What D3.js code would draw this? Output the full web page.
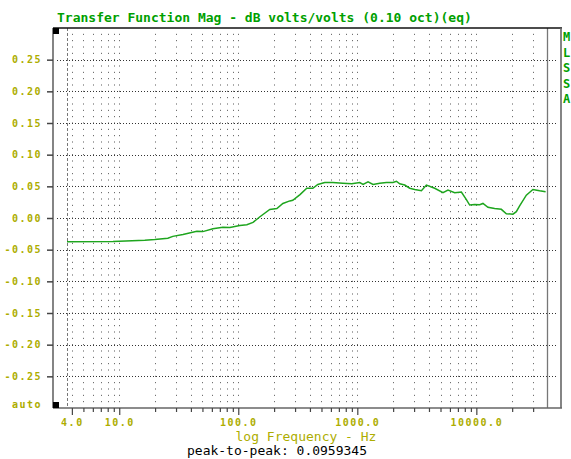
<!DOCTYPE html>
<html><head><meta charset="utf-8">
<script src="https://cdn.jsdelivr.net/npm/d3@7"></script>
<style>
html,body{margin:0;padding:0;background:#fff;}
svg{display:block;}
</style></head>
<body>
<svg id="chart" width="571" height="459"></svg>
<script>
// ---- data ----
const freqs = [3.64, 8.85, 16.4, 19.9, 25.6, 28.2, 34.3, 44.9, 50.4, 61.2, 74.2, 85, 103, 118, 133, 152, 184, 211, 237, 271, 287, 330, 376, 423, 466, 533, 622, 755, 898, 1049, 1118, 1231, 1356, 1544, 1756, 1995, 2131, 2272, 2502, 2756, 3037, 3456, 3806, 4193, 4470, 5248, 5779, 6577, 7487, 8248, 8790, 9683, 10666, 11365, 12516, 14247, 16218, 17865, 20297, 21677, 23103, 26300, 29880, 34010, 38190];
const magDb = [-0.0375, -0.037, -0.035, -0.034, -0.032, -0.029, -0.026, -0.021, -0.0215, -0.017, -0.0148, -0.015, -0.012, -0.0105, -0.007, 0.002, 0.0135, 0.015, 0.023, 0.027, 0.028, 0.037, 0.047, 0.047, 0.053, 0.056, 0.056, 0.055, 0.054, 0.056, 0.053, 0.057, 0.053, 0.055, 0.056, 0.056, 0.058, 0.054, 0.052, 0.047, 0.045, 0.043, 0.052, 0.049, 0.047, 0.040, 0.044, 0.040, 0.041, 0.029, 0.0205, 0.0215, 0.021, 0.023, 0.017, 0.015, 0.0137, 0.0068, 0.006, 0.010, 0.019, 0.036, 0.045, 0.043, 0.0415];
const yTicks = [0.25, 0.20, 0.15, 0.10, 0.05, 0.00, -0.05, -0.10, -0.15, -0.20, -0.25];
const yTickLabels = ["0.25", "0.20", "0.15", "0.10", "0.05", "0.00", "-0.05", "-0.10", "-0.15", "-0.20", "-0.25"];
const xMajorTicks = [4, 10, 100, 1000, 10000];
const xMajorLabels = ["4.0", "10.0", "100.0", "1000.0", "10000.0"];
const xMinorTicks = [5, 6, 7, 8, 9, 20, 30, 40, 50, 60, 70, 80, 90, 200, 300, 400, 500, 600, 700, 800, 900, 2000, 3000, 4000, 5000, 6000, 7000, 8000, 9000, 20000, 30000];
const sideLetters = ["M", "L", "S", "S", "A"];
const titleText = "Transfer Function Mag - dB volts/volts (0.10 oct)(eq)";
const xTitle = "log Frequency - Hz";
const footer = "peak-to-peak: 0.0959345";

// ---- layout ----
const svg = d3.select("#chart");
const frame = {left: 53, top: 28, right: 561, bottom: 408, inner: 547};
const x = d3.scaleLog().domain([3.64, 40000]).range([67, 548]);
const y = d3.scaleLinear().domain([-0.30, 0.30]).range([408, 28]);

const OLIVE = "#adad00", GREEN = "#00a000", LINE = "#1ea51e";
const monoB = "'DejaVu Sans Mono', monospace";

// vertical dotted grid
const gridFreqs = xMajorTicks.concat(xMinorTicks);
const step = y(0) - y(0.01);
svg.append("g").selectAll("line").data(gridFreqs).join("line")
  .attr("x1", d => Math.round(x(d)) + 0.5).attr("x2", d => Math.round(x(d)) + 0.5)
  .attr("y1", y(0.29) - 0.5).attr("y2", y(-0.295))
  .attr("stroke", "#555").attr("stroke-width", 1)
  .attr("stroke-dasharray", `1,${step - 1}`);

// horizontal dotted grid
svg.append("g").selectAll("line").data(yTicks).join("line")
  .attr("x1", 57).attr("x2", 556)
  .attr("y1", d => Math.round(y(d)) + 0.5).attr("y2", d => Math.round(y(d)) + 0.5)
  .attr("stroke", "#333").attr("stroke-width", 1)
  .attr("stroke-dasharray", "1,2");

// left dashed line
svg.append("line").attr("x1", x(3.64) + 0.5).attr("x2", x(3.64) + 0.5)
  .attr("y1", frame.top).attr("y2", frame.bottom)
  .attr("stroke", "#777").attr("stroke-dasharray", "3,2");

// inner right line
svg.append("line").attr("x1", frame.inner + 0.5).attr("x2", frame.inner + 0.5)
  .attr("y1", frame.top).attr("y2", frame.bottom)
  .attr("stroke", "#777").attr("stroke-width", 1.3);

// frame
svg.append("line").attr("x1", frame.left).attr("x2", frame.right + 1).attr("y1", frame.top).attr("y2", frame.top)
  .attr("stroke", "#111").attr("stroke-width", 1.6);
svg.append("line").attr("x1", frame.left).attr("x2", frame.right + 1).attr("y1", frame.bottom).attr("y2", frame.bottom)
  .attr("stroke", "#666").attr("stroke-width", 1.6);
svg.append("line").attr("x1", frame.left).attr("x2", frame.left).attr("y1", frame.top).attr("y2", frame.bottom)
  .attr("stroke", "#666").attr("stroke-width", 1.6);
svg.append("line").attr("x1", frame.right).attr("x2", frame.right).attr("y1", frame.top).attr("y2", frame.bottom)
  .attr("stroke", "#666").attr("stroke-width", 1.6);

// black corner squares
svg.append("rect").attr("x", frame.left).attr("y", frame.top).attr("width", 6).attr("height", 6).attr("fill", "#000");
svg.append("rect").attr("x", frame.left).attr("y", frame.bottom - 6).attr("width", 6).attr("height", 6).attr("fill", "#000");

// y axis
const yAxis = d3.axisLeft(y).tickValues(yTicks).tickSize(6).tickPadding(5)
  .tickFormat((d, i) => yTickLabels[i]);
const gy = svg.append("g").attr("transform", `translate(${frame.left},0)`).call(yAxis);
gy.select(".domain").remove();
gy.selectAll(".tick line").attr("stroke", "#444").attr("stroke-width", 1.5);
gy.selectAll(".tick text").attr("fill", OLIVE).attr("font-family", monoB).attr("font-weight", "bold")
  .attr("font-size", 10).style("letter-spacing", "1.5px");
svg.append("text").attr("x", 42).attr("y", 408).attr("text-anchor", "end")
  .attr("fill", OLIVE).attr("font-family", monoB).attr("font-weight", "bold")
  .attr("font-size", 10).style("letter-spacing", "1.5px").text("auto");

// x axes
const gxMinor = svg.append("g").attr("transform", `translate(0,${frame.bottom})`)
  .call(d3.axisBottom(x).tickValues(xMinorTicks).tickSize(4).tickFormat(""));
gxMinor.select(".domain").remove();
gxMinor.selectAll(".tick line").attr("stroke", "#444").attr("stroke-width", 1.2);
const gxMajor = svg.append("g").attr("transform", `translate(0,${frame.bottom})`)
  .call(d3.axisBottom(x).tickValues(xMajorTicks).tickSize(7).tickPadding(4)
    .tickFormat((d, i) => xMajorLabels[i]));
gxMajor.select(".domain").remove();
gxMajor.selectAll(".tick line").attr("stroke", "#444").attr("stroke-width", 1.2);
gxMajor.selectAll(".tick text").attr("fill", OLIVE).attr("font-family", monoB).attr("font-weight", "bold")
  .attr("font-size", 10).style("letter-spacing", "1.5px");

// curve
const data = freqs.map((f, i) => ({f, v: magDb[i]}));
svg.append("path").datum(data)
  .attr("fill", "none").attr("stroke", LINE).attr("stroke-width", 1.5)
  .attr("d", d3.line().x(d => x(d.f)).y(d => y(d.v)));

// texts
svg.append("text").attr("x", 57).attr("y", 22).attr("fill", GREEN)
  .attr("font-family", monoB).attr("font-weight", "bold").attr("font-size", 13).text(titleText);
svg.append("g").selectAll("text").data(sideLetters).join("text")
  .attr("x", 563).attr("y", (d, i) => 41 + i * 15.6)
  .attr("fill", GREEN).attr("font-family", monoB).attr("font-weight", "bold").attr("font-size", 12)
  .text(d => d);
svg.append("text").attr("x", 306).attr("y", 441).attr("text-anchor", "middle").attr("fill", OLIVE)
  .attr("font-family", monoB).attr("font-size", 13).text(xTitle);
svg.append("text").attr("x", 277).attr("y", 455).attr("text-anchor", "middle").attr("fill", "#000")
  .attr("font-family", monoB).attr("font-size", 13).text(footer);
</script>
</body></html>
